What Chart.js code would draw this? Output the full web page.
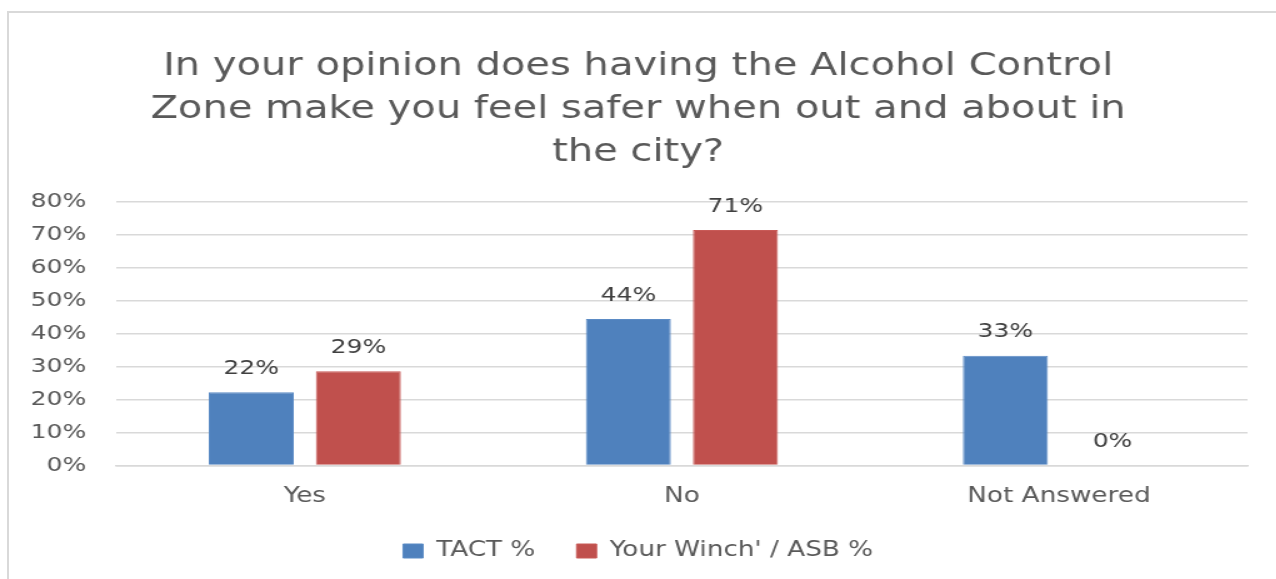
<!DOCTYPE html>
<html>
<head>
<meta charset="utf-8">
<script src="https://cdn.jsdelivr.net/npm/chart.js@4"></script>
<style>
  body { margin: 0; background: #fff; }
  #wrap { position: relative; width: 1276px; height: 579px; overflow: hidden; }
  #frame { position: absolute; left: 7px; top: 11px; width: 1290px; height: 600px; border: 2px solid #d9d9d9; }
  /* the original picture is stretched sideways, so the canvas is too */
  canvas { position: absolute; left: 0; top: 0; transform: scaleX(1.25); transform-origin: 0 0; }
</style>
</head>
<body>
<div id="wrap">
  <div id="frame"></div>
  <canvas id="chart" width="1021" height="579"></canvas>
</div>
<script>
const categories = ['Yes', 'No', 'Not Answered']
const tactValues = [22.2, 44.4, 33.3]
const winchValues = [28.6, 71.4, 0]
const seriesNames = ['TACT %', "Your Winch' / ASB %"]
const titleLines = [
    'In your opinion does having the Alcohol Control',
    'Zone make you feel safer when out and about in',
    'the city?'
]

const FONT = "'DejaVu Sans', sans-serif"

// draws the value above every bar, like excel data labels
const barLabels = {
    id: 'barLabels',
    afterDatasetsDraw(chart) {
        const ctx = chart.ctx
        ctx.save()
        ctx.font = '20px ' + FONT
        ctx.fillStyle = '#404040'
        ctx.textAlign = 'center'
        ctx.textBaseline = 'alphabetic'
        chart.data.datasets.forEach((ds, i) => {
            chart.getDatasetMeta(i).data.forEach((bar, j) => {
                ctx.fillText(Math.round(ds.data[j]) + '%', bar.x, bar.y - 18.5)
            })
        })
        ctx.restore()
    }
}

new Chart(document.getElementById('chart').getContext('2d'), {
    type: 'bar',
    data: {
        labels: categories,
        datasets: [
            { label: seriesNames[0], data: tactValues, backgroundColor: '#4f81bd', borderColor: '#5b8bc5', borderWidth: 1 },
            { label: seriesNames[1], data: winchValues, backgroundColor: '#c0504d', borderColor: '#c85a57', borderWidth: 1 }
        ]
    },
    options: {
        responsive: false,
        animation: false,
        layout: { padding: { top: 8, left: 23, right: 23, bottom: 7.5 } },
        datasets: { bar: { categoryPercentage: 0.568, barPercentage: 0.794 } },
        plugins: {
            title: {
                display: true,
                text: titleLines,
                color: '#595959',
                font: { family: FONT, size: 32, weight: 'normal', lineHeight: 1.34 },
                padding: { top: 37, bottom: 28 }
            },
            legend: {
                position: 'bottom',
                labels: {
                    color: '#595959',
                    font: { family: FONT, size: 21 },
                    boxWidth: 16,
                    boxHeight: 14,
                    padding: 33
                }
            },
            tooltip: { enabled: false }
        },
        scales: {
            y: {
                min: 0,
                max: 80,
                ticks: { stepSize: 10, color: '#595959', font: { family: FONT, size: 20 }, padding: 24, callback: v => v + '%' },
                grid: { color: '#d9d9d9', lineWidth: 1.6, drawTicks: false },
                border: { display: false },
                afterFit: s => { s.width = 70 }
            },
            x: {
                ticks: { color: '#595959', font: { family: FONT, size: 21 }, padding: 18 },
                grid: { display: false, drawTicks: false },
                border: { color: '#d9d9d9', width: 1.6 },
                afterFit: s => { s.height = 42 }
            }
        }
    },
    plugins: [barLabels]
})
</script>
</body>
</html>
